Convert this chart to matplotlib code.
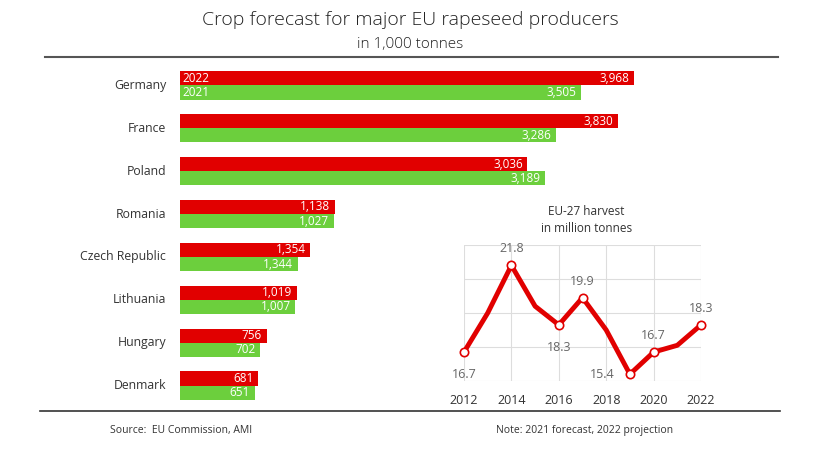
import matplotlib.pyplot as plt
import numpy as np

plt.rcParams['font.family'] = ['Open Sans', 'DejaVu Sans']

countries = ["Germany", "France", "Poland", "Romania", "Czech Republic",
             "Lithuania", "Hungary", "Denmark"]
# bar lengths as drawn in the source graphic
crop_2022 = [3968, 3830, 3036, 1354, 1138, 1019, 756, 681]
crop_2021 = [3505, 3286, 3189, 1344, 1027, 1007, 702, 651]
# value labels as printed in the source graphic
labels_2022 = ["3,968", "3,830", "3,036", "1,138", "1,354", "1,019", "756", "681"]
labels_2021 = ["3,505", "3,286", "3,189", "1,027", "1,344", "1,007", "702", "651"]

eu_years = [2012, 2013, 2014, 2015, 2016, 2017, 2018, 2019, 2020, 2021, 2022]
eu_harvest = [16.7, 19.0, 21.8, 19.4, 18.3, 19.9, 18.0, 15.4, 16.7, 17.1, 18.3]
eu_marked = [2012, 2014, 2016, 2017, 2019, 2020, 2022]

RED = "#e10000"
GREEN = "#6ccf3d"

W, H = 820, 450
fig = plt.figure(figsize=(W / 100, H / 100), dpi=100)


def px_axes(left, top, right, bottom):
    return fig.add_axes([left / W, 1 - bottom / H, (right - left) / W, (bottom - top) / H])


# title and rules
fig.text(0.5, 1 - 20 / H, "Crop forecast for major EU rapeseed producers",
         ha="center", va="center", fontsize=14, color="#222222", fontweight="light")
fig.text(0.5, 1 - 45 / H, "in 1,000 tonnes", ha="center", va="center",
         fontsize=11, color="#222222", fontweight="light")
fig.add_artist(plt.Line2D([45 / W, 778 / W], [1 - 57 / H] * 2, color="#555555", lw=1.5))
fig.add_artist(plt.Line2D([40 / W, 780 / W], [1 - 411 / H] * 2, color="#333333", lw=1.2))
fig.text(110 / W, 1 - 430 / H, "Source:  EU Commission, AMI", ha="left", va="center",
         fontsize=7.5, color="#333333")
fig.text(496 / W, 1 - 430 / H, "Note: 2021 forecast, 2022 projection", ha="left", va="center",
         fontsize=7.5, color="#333333")

# bar chart
ax = px_axes(180, 64, 695, 407)
y = np.arange(len(countries))
bh = 0.33
ax.barh(y - 0.165, crop_2022, height=bh, color=RED)
ax.barh(y + 0.165, crop_2021, height=bh, color=GREEN)
ax.set_xlim(0, 4500)
ax.set_ylim(7.5, -0.5)
for i in range(len(countries)):
    ax.text(crop_2022[i] - 40, i - 0.165, labels_2022[i], ha="right", va="center",
            color="white", fontsize=8.5)
    ax.text(crop_2021[i] - 40, i + 0.165, labels_2021[i], ha="right", va="center",
            color="white", fontsize=8.5)
    ax.text(-120, i, countries[i], ha="right", va="center", color="#333333", fontsize=8.8)
ax.text(20, -0.165, "2022", ha="left", va="center", color="white", fontsize=8.5)
ax.text(20, 0.165, "2021", ha="left", va="center", color="white", fontsize=8.5)
ax.axis("off")

# inset line chart
ax2 = px_axes(464, 245, 701, 381)
ax2.plot(eu_years, eu_harvest, color=RED, lw=3.5, zorder=3, solid_joinstyle="round")
mk = [eu_harvest[eu_years.index(yr)] for yr in eu_marked]
ax2.plot(eu_marked, mk, "o", ms=6, mfc="white", mec=RED, mew=1.2, zorder=4, clip_on=False)
ax2.set_xlim(2012, 2022)
ax2.set_ylim(15, 23)
ax2.set_xticks([2012, 2014, 2016, 2018, 2020, 2022])
ax2.set_yticks([15, 17, 19, 21, 23])
ax2.grid(True, color="#dddddd", lw=0.8)
ax2.tick_params(length=0, labelsize=9, labelcolor="#333333", pad=9)
ax2.set_yticklabels([])
for s in ax2.spines.values():
    s.set_visible(False)
lbl = {2012: (0, -16, "16.7"), 2014: (0, 12, "21.8"), 2016: (0, -16, "18.3"),
       2017: (0, 12, "19.9"), 2019: (-20, 0, "15.4"), 2020: (0, 12, "16.7"),
       2022: (0, 12, "18.3")}
for yr, (dx, dy, t) in lbl.items():
    ax2.annotate(t, (yr, eu_harvest[eu_years.index(yr)]), xytext=(dx, dy),
                 textcoords="offset points", ha="center", va="center",
                 fontsize=9, color="#666666")
fig.text((464 + 701) / 2 / W + 0.005, 1 - 212 / H, "EU-27 harvest", ha="center", va="center",
         fontsize=8.5, color="#333333")
fig.text((464 + 701) / 2 / W + 0.005, 1 - 229 / H, "in million tonnes", ha="center", va="center",
         fontsize=8.5, color="#333333")

fig.savefig("out.png", dpi=100)
